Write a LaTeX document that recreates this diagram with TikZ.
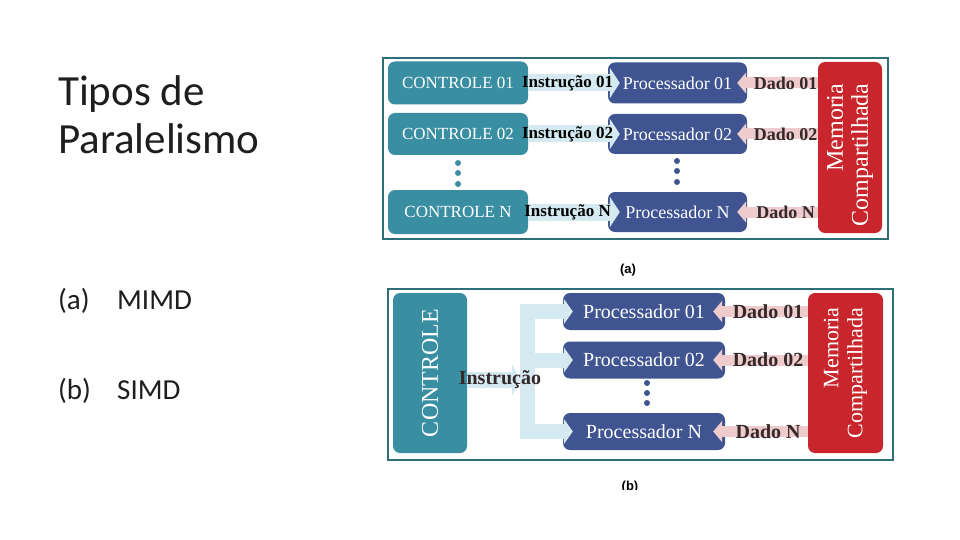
\documentclass[tikz,border=0pt]{standalone}
\usepackage{fontspec}
\setmainfont{Liberation Serif}
\newfontfamily\slidefont{Carlito}
\newfontfamily\capfont{Liberation Sans}
\usetikzlibrary{arrows.meta}

\definecolor{ctrlteal}{RGB}{58,142,162}
\definecolor{procblue}{RGB}{63,84,145}
\definecolor{memred}{RGB}{200,38,44}
\definecolor{instrblue}{RGB}{212,234,240}
\definecolor{dadopink}{RGB}{238,204,206}
\definecolor{framecol}{RGB}{46,110,120}
\definecolor{dadotext}{RGB}{52,40,40}
\definecolor{slidetext}{RGB}{30,30,30}

\newcommand{\fsz}[1]{\fontsize{#1}{#1}\selectfont}

\tikzset{
  box/.style={rounded corners=7pt, inner sep=0pt, text=white},
  ctrlbox/.style={box, fill=ctrlteal, minimum width=140pt, font=\fsz{17}},
  procbox/.style={box, fill=procblue},
  membox/.style={box, fill=memred},
  rottext/.style={rotate=90, align=right, text=white, inner sep=0pt},
  frame/.style={draw=framecol, line width=2.5pt},
  instrarrow/.style={draw=instrblue, line width=17pt, -{Triangle[length=10pt,width=30pt]}},
  busline/.style={draw=instrblue, line width=15pt, line cap=rect},
  dadoarrow/.style={draw=dadopink, line width=11pt, -{Triangle[length=9pt,width=21pt]}},
  instrlabel/.style={font=\bfseries\fsz{17}, text=black, inner sep=0pt},
  dadolabel/.style={font=\bfseries\fsz{18}, text=dadotext, inner sep=0pt},
  caplabel/.style={font=\capfont\bfseries\fsz{13}, inner sep=0pt},
  slidetitle/.style={font=\slidefont\fsz{43}, text=slidetext, inner sep=0pt, anchor=base west},
  slideitem/.style={font=\slidefont\fsz{29}, text=slidetext, inner sep=0pt, anchor=base west}
}

\begin{document}
\begin{tikzpicture}[x=1pt, y=-1pt]
  \useasboundingbox (0,0) rectangle (960,540);
  \fill[white] (0,0) rectangle (960,540);

  % slide text
  \node[slidetitle] (t1) at (58,106) {Tipos de};
  \node[slidetitle] (t2) at (58,154) {Paralelismo};
  \node[slideitem] (ia) at (58,309) {(a)};
  \node[slideitem] (ma1) at (117,309) {MIMD};
  \node[slideitem] (ib) at (58,399) {(b)};
  \node[slideitem] (sb1) at (117,399) {SIMD};

  % (a) MIMD
  \draw[frame] (383,58) rectangle (888,239);
  \node[ctrlbox, minimum height=43pt] (c1) at (458,83) {CONTROLE 01};
  \node[ctrlbox, minimum height=42pt] (c2) at (458,134) {CONTROLE 02};
  \node[ctrlbox, minimum height=44pt] (cN) at (458,212) {CONTROLE N};
  \foreach \y in {163,173,184} \fill[ctrlteal] (458,\y) circle (3pt);

  \node[procbox, minimum width=139pt, minimum height=41pt, font=\fsz{18}] (p1) at (677.5,83) {Processador 01};
  \node[procbox, minimum width=139pt, minimum height=40pt, font=\fsz{18}] (p2) at (677.5,134) {Processador 02};
  \node[procbox, minimum width=139pt, minimum height=40pt, font=\fsz{18}] (pN) at (677.5,212) {Processador N};
  \foreach \y in {161,171,182} \fill[procblue] (677,\y) circle (3pt);

  \node[membox, minimum width=64pt, minimum height=171pt] (ma) at (850,147.5) {};
  \node[rottext, font={\fontsize{24}{25}\selectfont}] (mat) at (850,155) {Memoria\\Compartilhada};

  \draw[instrarrow] (c1.east) -- node[instrlabel, pos=.43] {Instrução 01} ([xshift=12pt]p1.west);
  \draw[instrarrow] (c2.east) -- node[instrlabel, pos=.43] {Instrução 02} ([xshift=12pt]p2.west);
  \draw[instrarrow] (cN.east) -- node[instrlabel, pos=.43] {Instrução N} ([xshift=12pt]pN.west);

  \draw[dadoarrow] (ma.west |- p1.east) -- node[dadolabel, pos=.4] {Dado 01} ([xshift=-10pt]p1.east);
  \draw[dadoarrow] (ma.west |- p2.east) -- node[dadolabel, pos=.4] {Dado 02} ([xshift=-10pt]p2.east);
  \draw[dadoarrow] (ma.west |- pN.east) -- node[dadolabel, pos=.4] {Dado N} ([xshift=-10pt]pN.east);

  \node[caplabel] (la) at (628,270) {(a)};

  % (b) SIMD
  \draw[frame] (388,289) rectangle (893,460);
  \node[box, fill=ctrlteal, minimum width=74pt, minimum height=160pt] (k) at (430,373) {};
  \node[rottext, font=\fsz{24}] (kt) at (k) {CONTROLE};

  \node[procbox, minimum width=162pt, minimum height=37pt, font=\fsz{20}] (q1) at (644,311.5) {Processador 01};
  \node[procbox, minimum width=162pt, minimum height=37pt, font=\fsz{20}] (q2) at (644,360) {Processador 02};
  \node[procbox, minimum width=162pt, minimum height=37pt, font=\fsz{20}] (qN) at (644,431.5) {Processador N};
  \foreach \y in {383,393,403} \fill[procblue] (647,\y) circle (3pt);

  \node[membox, minimum width=75pt, minimum height=160pt] (mb) at (845.5,373) {};
  \node[rottext, font={\fontsize{22}{24}\selectfont}] (mbt) at (mb) {Memoria\\Compartilhada};

  \coordinate (bus) at (527.5,380);
  \draw[busline] (bus |- q1.west) -- (bus |- qN.west);
  \foreach \q in {q1,q2,qN}
    \draw[instrarrow, line width=15pt, -{Triangle[length=9pt,width=25pt]}] (bus |- \q.west) -- ([xshift=10pt]\q.west);
  \draw[instrarrow, line width=16pt, -{Triangle[length=8pt,width=32pt]}] (k.east |- bus) -- node[instrlabel, font=\bfseries\fsz{20}, text=dadotext, pos=.62] {Instrução} ([xshift=-7.5pt]bus);

  \draw[dadoarrow] (mb.west |- q1.east) -- node[dadolabel, font=\bfseries\fsz{20}, pos=.42] {Dado 01} ([xshift=-12pt]q1.east);
  \draw[dadoarrow] (mb.west |- q2.east) -- node[dadolabel, font=\bfseries\fsz{20}, pos=.42] {Dado 02} ([xshift=-12pt]q2.east);
  \draw[dadoarrow] (mb.west |- qN.east) -- node[dadolabel, font=\bfseries\fsz{20}, pos=.42] {Dado N} ([xshift=-12pt]qN.east);

  \begin{scope}
    \clip (560,470) rectangle (700,489);
    \node[caplabel] (lb) at (630,487) {(b)};
  \end{scope}
\end{tikzpicture}
\end{document}
